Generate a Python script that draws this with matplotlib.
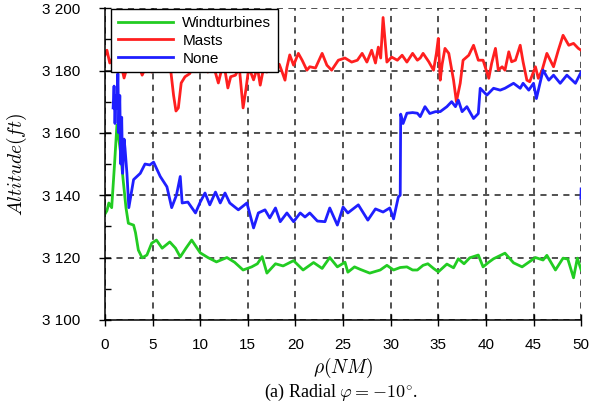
import matplotlib
matplotlib.use("Agg")
import matplotlib.pyplot as plt
import numpy as np
from matplotlib.ticker import FuncFormatter, MultipleLocator

plt.rcParams['font.family'] = ['Liberation Sans', 'DejaVu Sans']
plt.rcParams['mathtext.fontset'] = 'cm'

# Windturbines
gx = [0.0, 0.2, 0.4, 0.7, 1.0, 1.25, 1.6, 1.9, 2.2, 2.45,
      3.0, 3.2, 3.5, 3.9, 4.4, 4.9, 5.4, 6.0, 6.8, 7.4,
      7.9, 8.5, 9.1, 10.0, 10.8, 11.7, 12.8, 13.6, 14.5, 15.4,
      16.0, 16.5, 17.0, 17.9, 18.7, 19.8, 20.8, 21.9, 22.8, 23.6,
      24.4, 25.2, 25.5, 26.2, 26.8, 27.8, 28.9, 29.6, 30.3, 31.0,
      31.7, 32.3, 32.8, 33.4, 33.9, 34.5, 35.0, 35.9, 36.6, 37.1,
      37.7, 38.3, 39.2, 39.7, 40.3, 40.8, 41.4, 42.0, 42.9, 43.8,
      44.5, 45.2, 46.0, 46.4, 47.3, 48.1, 48.6, 49.2, 49.6, 50.0]
gy = [3134, 3135, 3137.5, 3136, 3150, 3162.5, 3154.5, 3145, 3136, 3131,
      3130.4, 3128, 3122.4, 3119.9, 3120.8, 3124.6, 3125.6, 3123, 3125, 3123,
      3120.2, 3123, 3125.6, 3121.5, 3120, 3118.6, 3120, 3118.5, 3116, 3117,
      3118, 3120.3, 3115, 3118, 3117.3, 3119, 3116, 3118.4, 3116.5, 3120,
      3117, 3118.5, 3115.3, 3117, 3116.2, 3115, 3116, 3117.5, 3116, 3116.8,
      3117, 3116, 3116, 3117.5, 3118, 3116.5, 3115.4, 3117.9, 3116.7, 3119.6,
      3118, 3119.9, 3120.8, 3117, 3118.5, 3119.6, 3120.5, 3121.4, 3118.3, 3117,
      3118.5, 3120, 3119.2, 3120.7, 3116, 3119.8, 3119.5, 3113.5, 3119.8, 3116]

# Masts
rx = [0.0, 0.2, 0.5, 0.8, 1.2, 1.6, 2.0, 2.4, 2.9, 3.4,
      3.9, 4.4, 4.9, 5.4, 5.9, 6.4, 6.9, 7.2, 7.45, 7.7,
      8.0, 8.4, 8.9, 9.3, 9.8, 10.3, 10.8, 11.3, 11.9, 12.3,
      12.6, 12.9, 13.2, 13.7, 14.1, 14.5, 14.8, 15.1, 15.6, 16.0,
      16.3, 16.6, 17.0, 17.5, 17.9, 18.3, 18.6, 18.9, 19.1, 19.4,
      19.8, 20.3, 20.7, 21.2, 21.5, 22.1, 22.8, 23.3, 23.8, 24.5,
      25.2, 25.9, 26.5, 27.0, 27.5, 28.0, 28.4, 28.7, 28.95, 29.2,
      29.6, 30.1, 30.7, 31.2, 31.7, 32.3, 32.8, 33.1, 33.4, 34.0,
      34.5, 34.8, 35.0, 35.2, 35.4, 35.7, 36.1, 36.6, 36.9, 37.3,
      37.6, 38.2, 38.7, 39.2, 39.7, 40.3, 40.6, 41.0, 41.3, 41.7,
      42.0, 42.4, 42.7, 43.1, 43.6, 43.9, 44.3, 44.6, 45.2, 45.5,
      45.9, 46.4, 47.1, 47.6, 48.1, 48.7, 49.2, 49.7, 50.0]
ry = [3185, 3186.5, 3182.4, 3184, 3181.5, 3183, 3177.6, 3182, 3181, 3183,
      3178.5, 3182, 3179.5, 3183, 3181, 3183, 3180, 3172, 3167, 3168,
      3176, 3178, 3179, 3182, 3180.5, 3182, 3179.5, 3182.5, 3176, 3181,
      3180, 3174.4, 3178, 3178.5, 3181, 3168, 3174, 3181, 3177, 3181,
      3175.3, 3180, 3179.5, 3183, 3180.1, 3182, 3179.5, 3176.9, 3181, 3185,
      3181.7, 3185.5, 3183.3, 3180.1, 3181.2, 3180.8, 3185.5, 3181.7, 3180.1, 3183.3,
      3184, 3182.7, 3183.3, 3185.5, 3182.7, 3186.5, 3182.4, 3187.5, 3184, 3197,
      3182.7, 3184.3, 3183.3, 3184.9, 3182.7, 3185.5, 3183.3, 3184, 3185.5, 3182.8,
      3180.1, 3185.5, 3190.3, 3176.9, 3182, 3187.1, 3185.5, 3176.9, 3170, 3175.9,
      3183.3, 3184.9, 3188.1, 3183.3, 3183.3, 3177.5, 3182.3, 3187.1, 3180.1, 3181.2,
      3180.1, 3186, 3182.8, 3183.3, 3188.1, 3182.8, 3176.9, 3176.4, 3181.2, 3177.5,
      3180.1, 3185.5, 3181.2, 3186.5, 3191.3, 3188.1, 3188.7, 3187.1, 3186.5]

# None
bx = [0.85, 0.95, 1.05, 1.15, 1.25, 1.35, 1.45, 1.55, 1.65, 1.75,
      1.85, 2.0, 2.1, 2.3, 2.5, 3.0, 3.7, 4.2, 4.7, 5.1,
      5.8, 6.5, 7.0, 7.5, 7.9, 8.1, 8.7, 9.5, 10.0, 10.5,
      11.0, 11.6, 12.1, 12.6, 13.1, 14.0, 14.9, 15.6, 16.1, 16.8,
      17.3, 17.9, 18.4, 19.1, 19.8, 20.5, 21.0, 21.5, 22.3, 23.1,
      23.6, 24.4, 25.0, 25.5, 26.6, 27.6, 28.4, 29.2, 29.9, 30.3,
      30.8, 31.0, 31.05, 31.3, 31.7, 32.3, 32.8, 33.1, 33.6, 34.1,
      34.7, 35.2, 35.9, 36.4, 36.8, 37.1, 37.5, 38.0, 38.7, 39.2,
      39.4, 40.1, 40.8, 41.5, 42.0, 42.9, 43.6, 43.9, 44.5, 45.0,
      45.3, 46.0, 46.6, 47.1, 47.8, 48.5, 49.4, 50.0, np.nan, 49.97,
      50.0]
by = [3168, 3175, 3163, 3172, 3168, 3179, 3160, 3172, 3150, 3165,
      3147, 3158, 3155, 3147, 3136, 3145, 3147, 3150, 3149.7, 3150.6,
      3146, 3142.7, 3136, 3140, 3146, 3137.5, 3137.8, 3134.3, 3137.8, 3140.7,
      3136.9, 3141, 3137.5, 3140.7, 3137.5, 3135.3, 3137.5, 3129.5, 3134.3, 3135.3,
      3132.7, 3135.9, 3131.5, 3134.3, 3131.5, 3134.3, 3133, 3134.3, 3131.7, 3131.5,
      3135.9, 3130.4, 3136.2, 3134.3, 3136.9, 3132, 3135.6, 3134.6, 3135.9, 3132.4,
      3139.4, 3140, 3166, 3163, 3166.3, 3166.5, 3166.3, 3165.2, 3168.4, 3166.2,
      3166.8, 3166.8, 3168.4, 3170, 3168.4, 3170.5, 3166.8, 3168.4, 3164.6, 3166.2,
      3174.3, 3172.1, 3174.3, 3173.7, 3174.3, 3175.9, 3174.3, 3175.9, 3173.7, 3175.9,
      3171, 3180.1, 3176.9, 3178.5, 3175.9, 3178.5, 3175.9, 3179.5, np.nan, 3139,
      3142]

fig = plt.figure(figsize=(5.9, 4.08), dpi=100)
ax = fig.add_axes([0.178, 0.216, 0.807, 0.764])

lw = 2.0
ax.plot(gx, gy, color='#22cc22', lw=lw, label='Windturbines')
ax.plot(rx, ry, color='#ff1f1f', lw=lw, label='Masts')
ax.plot(bx, by, color='#1f1fff', lw=lw, label='None')

ax.set_xlim(0, 50)
ax.set_ylim(3100, 3200)
ax.xaxis.set_major_locator(MultipleLocator(5))
ax.yaxis.set_major_locator(MultipleLocator(20))
ax.yaxis.set_minor_locator(MultipleLocator(10))
ax.yaxis.set_major_formatter(FuncFormatter(lambda v, p: f"{int(v):,}".replace(",", " ")))
ax.tick_params(axis='both', which='major', direction='inout', length=8, width=1,
               labelsize=11, colors='k')
ax.tick_params(axis='y', which='minor', direction='in', length=4, width=1)
ax.tick_params(axis='x', pad=9)
ax.tick_params(axis='y', pad=14)

ax.grid(True, which='major', color='#222222', linestyle=(0, (4, 3.5)), linewidth=1.1)
ax.spines['top'].set_visible(False)
ax.spines['right'].set_visible(False)
ax.spines['left'].set_linewidth(1.1)
ax.spines['bottom'].set_linewidth(1.1)

ax.set_ylabel(r'$Altitude(ft)$', fontsize=14, labelpad=9)
ax.set_xlabel(r'$\rho(NM)$', fontsize=14, labelpad=3)

leg = ax.legend(loc='upper left', bbox_to_anchor=(0.013, 0.997), borderaxespad=0,
                fontsize=11, handlelength=3.6, labelspacing=0.25, handletextpad=0.6,
                fancybox=False, framealpha=1, edgecolor='k', borderpad=0.45)
leg.get_frame().set_linewidth(1.0)

fig.text(0.578, 0.012, r'(a) Radial $\varphi = -10^{\circ}$.', ha='center', va='bottom',
         fontsize=13, family='Liberation Serif')

fig.savefig('out.png', dpi=100)
